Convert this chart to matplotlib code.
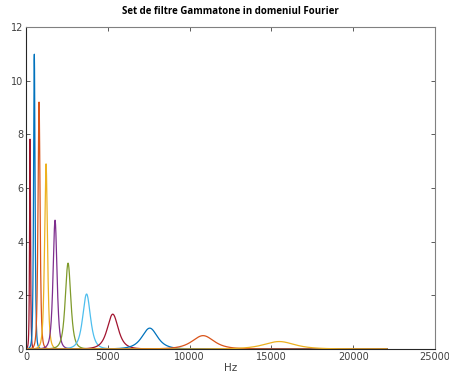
import numpy as np
import matplotlib
matplotlib.use("Agg")
import matplotlib.pyplot as plt

# filter centre frequencies (Hz), peak magnitudes and bandwidths
centers = [245, 505, 795, 1222, 1773, 2567, 3700, 5300, 7560, 10820, 15470]
heights = [7.85, 11.0, 9.2, 6.9, 4.8, 3.2, 2.05, 1.3, 0.78, 0.5, 0.28]
bandwidths = [52, 80, 113, 160, 220, 308, 430, 610, 859, 1215, 1727]
colors = ["#a2142f", "#0072bd", "#d95319", "#edb120", "#7e2f8e", "#7f9a2a",
          "#4dbeee", "#a2142f", "#0072bd", "#d95319", "#edb120"]

fs = 44100
freq = np.linspace(0, fs / 2, 4000)

fig = plt.figure(figsize=(4.49, 3.79), dpi=100)
ax = fig.add_axes([0.058, 0.079, 0.911, 0.850])

for fc, h, b, c in zip(centers, heights, bandwidths, colors):
    # 4th order gammatone magnitude response
    resp = h / (1 + ((freq - fc) / b) ** 2) ** 2
    ax.plot(freq, resp, color=c, lw=0.9)

ax.set_xlim(0, 25000)
ax.set_ylim(0, 12)
ax.set_xticks(np.arange(0, 25001, 5000))
ax.set_yticks(np.arange(0, 13, 2))
ax.tick_params(direction="in", top=True, right=True, length=3, width=0.6,
               labelsize=7, colors="#404040", pad=2)
for s in ax.spines.values():
    s.set_color("#808080")
    s.set_linewidth(0.8)
ax.spines["left"].set_color("#262626")
ax.spines["bottom"].set_color("#262626")
ax.set_xlabel("Hz", fontsize=7.5, color="#404040", labelpad=1)
ax.set_title("Set de filtre Gammatone in domeniul Fourier", fontsize=7,
             fontweight="bold", family="Open Sans", pad=9)

fig.savefig("out.png", dpi=100)
